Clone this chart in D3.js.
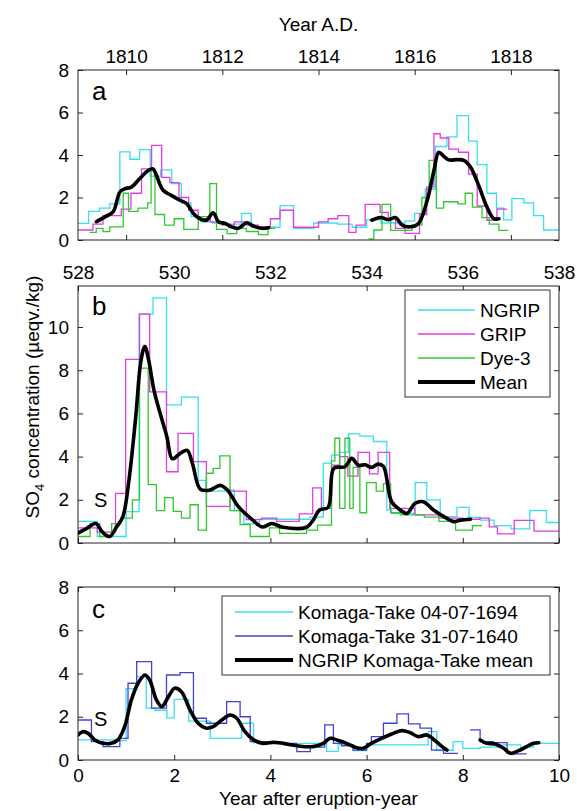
<!DOCTYPE html>
<html>
<head>
<meta charset="utf-8">
<script src="https://cdn.jsdelivr.net/npm/d3@7/dist/d3.min.js"></script>
<style>
  body { margin: 0; background: #fff; }
  svg text { font-family: "Liberation Sans", Arial, Helvetica, sans-serif; fill: #000; }
</style>
</head>
<body>
<svg id="chart" width="577" height="811"></svg>
<script>
// all x values are "years after eruption-year" (0..10); panel a/b top axes just relabel them
// step series: t has one more entry than v (last t = end of last step), null = gap

// --- panel a (1809 eruption, Year A.D.)
var tA_ngrip = [0,0.22,0.45,0.66,0.87,1.08,1.28,1.5,1.72,1.95,2.15,2.35,2.55,2.8,3.05,3.4,3.6,4.2,4.48,4.9,5.4,5.7,6.0,6.3,6.8,7.0,7.22,7.43,7.67,7.88,8.12,8.3,8.5,8.7,8.85,9.02,9.27,9.47,9.68,10];
var vA_ngrip = [0.78,1.35,1.5,1.7,4.15,3.8,4.25,3.0,3.3,2.65,1.75,1.1,0.85,0.8,0.75,1.25,0.6,1.62,0.55,0.8,0.75,0.6,0.95,0.8,0.9,1.25,2.4,4.4,4.85,5.85,4.65,3.55,2.2,1.5,0.95,1.95,1.75,1.15,0.47];
var tA_grip = [0,0.31,0.52,0.9,1.1,1.32,1.53,1.74,1.91,2.1,2.3,2.5,2.75,3.0,3.25,3.5,3.75,4.0,4.2,4.48,5.0,5.2,5.4,5.63,5.78,5.97,6.28,6.45,6.6,6.8,7.1,7.25,7.4,7.53,7.71,7.91,8.12,8.3,8.5,8.71,8.92];
var vA_grip = [0.47,0.75,1.15,1.45,2.2,3.35,4.45,2.95,2.7,2.0,1.4,1.0,0.85,0.7,0.85,0.7,0.6,1.0,1.4,0.6,0.85,1.0,1.15,0.36,0.7,1.68,1.3,1.05,0.55,0.31,1.2,2.5,5.0,4.8,4.28,4.13,3.1,1.6,0.93,1.45];
var tA_dye3 = [0.24,0.38,0.52,0.66,0.94,1.05,1.25,1.45,1.52,1.6,1.8,2.0,2.2,2.5,2.74,2.88,3.1,3.3,3.5,3.75,3.95,4.1,6.04,6.15,6.32,6.5,6.95,7.15,7.3,7.45,7.6,7.9,8.05,8.2,8.4,8.55,8.75,8.95];
var vA_dye3 = [0.36,0.55,0.39,0.62,2.2,1.35,1.5,1.75,3.3,1.2,0.7,1.0,0.5,1.1,2.65,0.5,0.3,0.55,0.4,0.25,0.55,null,0.05,0.47,1.68,0.45,0.7,2.0,3.75,1.5,1.8,1.7,2.2,1.55,1.05,0.75,0.45];
var tA_mean = [0.38,0.56,0.73,0.87,0.97,1.11,1.28,1.46,1.56,1.63,1.77,1.94,2.12,2.26,2.4,2.53,2.67,2.81,2.92,3.06,3.19,3.33,3.51,3.65,3.82,3.96,5.0,6.11,6.29,6.46,6.6,6.74,6.91,7.08,7.26,7.4,7.5,7.6,7.71,7.88,8.02,8.16,8.33,8.5,8.64,8.75];
var vA_mean = [0.86,1.09,1.32,2.26,2.41,2.49,2.88,3.27,3.35,3.04,2.34,2.1,1.87,1.71,1.25,1.01,0.93,1.28,0.86,0.78,0.62,0.55,0.81,0.65,0.55,0.58,null,0.93,1.06,0.95,1.06,0.7,0.62,0.78,1.87,3.27,4.13,3.95,3.77,3.78,3.75,3.43,2.57,1.56,1.01,1.0];

// --- panel b (528)
var tB_ngrip = [0,0.4,1.0,1.27,1.56,1.84,2.15,2.5,2.66,3.06,3.25,3.45,3.77,4.82,5.1,5.27,5.44,5.62,5.86,6.14,6.42,6.52,7.01,7.25,7.53,7.88,8.13,8.37,8.65,9.0,9.39,9.74,10];
var vB_ngrip = [1.0,0.3,1.45,10.6,11.35,6.4,6.75,2.9,2.4,2.45,1.5,0.9,1.1,1.2,3.7,4.07,4.2,5.05,4.95,4.7,1.53,1.37,2.8,2.0,1.22,1.65,1.19,1.06,0.8,0.65,1.5,0.95];
var tB_grip = [0,0.4,0.78,0.99,1.28,1.49,1.84,2.08,2.4,2.67,3.16,3.5,3.82,4.13,4.6,4.88,5.06,5.27,5.44,5.61,5.82,6.06,6.24,6.48,7.0,7.5,8.0,8.35,8.55,8.72,9.07,9.48,10];
var vB_grip = [0.7,0.5,2.3,8.5,10.6,7.0,3.3,5.08,3.77,1.7,2.4,1.08,1.15,1.0,1.35,2.55,1.6,3.6,4.0,3.1,4.2,3.2,4.2,1.6,1.3,1.15,1.1,1.15,0.75,0.42,1.05,0.55];
var tB_dye3 = [0,0.25,0.45,0.7,0.89,1.13,1.28,1.46,1.63,1.8,1.98,2.15,2.33,2.5,2.67,2.81,2.95,3.16,3.37,3.58,3.98,4.19,4.75,4.98,5.27,5.34,5.44,5.55,5.65,5.72,5.86,6.0,6.2,6.35,6.5,6.7,7.2,7.5,7.85,8.2,8.4];
var vB_dye3 = [0.3,0.9,0.3,0.9,1.15,2.0,8.1,2.7,1.5,2.1,1.46,1.15,1.77,0.6,3.23,3.46,4.03,1.5,0.85,0.3,0.7,0.45,0.6,0.83,3.8,4.85,1.6,4.85,1.6,3.5,1.4,2.8,2.4,2.75,1.4,1.3,1.2,1.0,0.6,0.8];
var tB_mean = [0,0.17,0.37,0.51,0.66,0.8,0.93,1.05,1.2,1.31,1.39,1.47,1.58,1.73,1.85,1.96,2.12,2.27,2.38,2.54,2.73,2.96,3.11,3.34,3.64,3.83,4.03,4.26,4.75,4.89,5.02,5.2,5.32,5.55,5.69,5.83,5.97,6.1,6.24,6.35,6.52,6.7,6.84,7.01,7.18,7.39,7.67,7.81,7.95,8.16];
var vB_mean = [0.46,0.66,0.9,0.5,0.3,0.74,1.2,2.75,5.83,8.46,9.1,8.46,7.07,5.83,4.9,3.9,4.14,4.29,3.67,2.5,2.44,2.67,2.44,1.67,1.05,0.74,0.9,0.73,0.73,1.06,1.53,1.65,3.46,3.53,3.92,3.6,3.62,3.5,3.65,3.55,1.91,1.53,1.37,1.84,1.91,1.53,1.14,0.99,1.06,1.1];

// --- panel c (Komaga-Take)
var tC_k1694 = [0,0.87,1.0,1.22,1.42,1.6,1.85,2.0,2.3,2.75,3.05,3.4,3.65,3.9,4.6,5.17,5.41,5.72,6.0,7.28,7.46,7.8,8.0,8.36,8.8,9.2,9.47,10];
var vC_k1694 = [0.93,0.9,3.3,3.86,2.4,2.3,1.95,2.8,1.8,1.0,1.0,1.7,0.8,0.75,0.77,0.4,0.7,0.43,0.7,1.31,0.45,0.85,0.54,0.6,0.7,0.6,0.77];
var tC_k1640 = [0,0.28,0.52,0.87,1.04,1.22,1.53,1.84,2.12,2.4,2.67,3.09,3.37,3.58,3.92,4.55,4.83,5.13,5.31,5.48,5.72,6.0,6.1,6.35,6.63,6.87,7.11,7.35,7.6,7.9,8.15,8.36,8.64,8.92,9.06,9.33];
var vC_k1640 = [1.85,0.85,0.62,1.0,3.55,4.55,2.4,3.93,4.04,1.93,1.7,2.7,2.0,0.85,0.77,0.39,0.6,1.62,0.77,0.66,0.46,0.77,1.08,1.7,2.13,1.67,1.47,0.46,0.31,null,1.39,0.85,0.8,0.31,0.28];
var tC_mean = [0,0.1,0.21,0.35,0.52,0.69,0.83,0.97,1.11,1.25,1.39,1.49,1.63,1.74,1.88,2.01,2.15,2.33,2.5,2.67,2.81,2.99,3.16,3.3,3.47,3.65,3.85,4.06,4.27,4.55,4.89,5.1,5.24,5.41,5.58,5.79,5.93,6.1,6.31,6.52,6.73,6.9,7.08,7.25,7.39,7.53,7.67,8.0,8.36,8.5,8.67,8.85,8.99,9.16,9.33,9.47,9.58];
var vC_mean = [1.16,1.31,1.23,0.93,0.77,0.77,0.93,1.54,2.78,3.55,3.93,3.7,2.78,2.47,2.93,3.32,3.16,2.31,1.7,1.47,1.54,1.85,2.08,1.93,1.31,0.93,0.77,0.82,0.77,0.66,0.62,0.77,1.0,0.9,0.77,0.57,0.54,0.77,1.0,1.2,1.36,1.27,1.08,1.16,0.96,0.69,0.46,null,0.93,0.77,0.74,0.54,0.31,0.43,0.62,0.77,0.8];

// axis ticks / labels
var yearsAD = [1810,1812,1814,1816,1818];
var yearsB = [528,530,532,534,536,538];
var yearsAfter = [0,2,4,6,8,10];
var legendB = ["NGRIP","GRIP","Dye-3","Mean"];
var legendC = ["Komaga-Take 04-07-1694","Komaga-Take 31-07-1640","NGRIP Komaga-Take mean"];

var C_CYAN = "#36e0ec", C_MAG = "#e23de2", C_GREEN = "#30c830", C_BLUE = "#4343d2";

var svg = d3.select("#chart");
var L = 78, R = 559;
var tickLen = 5;

function stairs(ts, vs) {
  var pts = [];
  for (var i = 0; i < vs.length; i++) {
    if (vs[i] == null) { pts.push({t: ts[i], v: null}); continue; }
    pts.push({t: ts[i], v: vs[i]});
    pts.push({t: ts[i + 1], v: vs[i]});
  }
  return pts;
}
function pairs(ts, vs) {
  return ts.map(function(t, i) { return {t: t, v: vs[i]}; });
}

function panel(id, top, bottom, ymax, cfg) {
  var x = d3.scaleLinear().domain([0, 10]).range([L, R]);
  var y = d3.scaleLinear().domain([0, ymax]).range([bottom, top]);
  var xTop = d3.scaleLinear().domain(cfg.topDomain).range([L, R]);
  var g = svg.append("g").attr("id", id);

  g.append("clipPath").attr("id", "clip-" + id)
    .append("rect").attr("x", L).attr("y", top).attr("width", R - L).attr("height", bottom - top);
  var plot = g.append("g").attr("clip-path", "url(#clip-" + id + ")");

  var stepLine = d3.line().defined(function(d) { return d.v != null; })
    .x(function(d) { return x(d.t); }).y(function(d) { return y(d.v); });
  var meanLine = d3.line().defined(function(d) { return d.v != null; })
    .curve(d3.curveCatmullRom.alpha(0.5))
    .x(function(d) { return x(d.t); }).y(function(d) { return y(d.v); });

  cfg.steps.forEach(function(s) {
    plot.append("path").datum(stairs(s.t, s.v))
      .attr("d", stepLine).attr("fill", "none")
      .attr("stroke", s.color).attr("stroke-width", 1.3);
  });
  plot.append("path").datum(pairs(cfg.mean.t, cfg.mean.v))
    .attr("d", meanLine).attr("fill", "none")
    .attr("stroke", "#000").attr("stroke-width", 3.6)
    .attr("stroke-linejoin", "round").attr("stroke-linecap", "round");

  // axes, MATLAB style inward ticks on all sides
  var yt = d3.range(0, ymax + 0.01, 2);
  var ax;
  ax = g.append("g").attr("transform", "translate(" + L + ",0)")
    .call(d3.axisLeft(y).tickValues(yt).tickSize(-tickLen).tickPadding(9).tickFormat(d3.format("d")));
  ax = ax.select(".domain").remove();
  g.append("g").attr("transform", "translate(" + R + ",0)")
    .call(d3.axisRight(y).tickValues(yt).tickSize(-tickLen).tickFormat(""))
    .select(".domain").remove();

  var topAx = d3.axisTop(xTop).tickValues(cfg.topTicks).tickSize(-tickLen).tickPadding(7)
    .tickFormat(cfg.topLabels ? d3.format("d") : "");
  g.append("g").attr("transform", "translate(0," + top + ")").call(topAx).select(".domain").remove();
  var botAx = d3.axisBottom(xTop).tickValues(cfg.topTicks).tickSize(-tickLen).tickPadding(9)
    .tickFormat(cfg.bottomLabels ? d3.format("d") : "");
  g.append("g").attr("transform", "translate(0," + bottom + ")").call(botAx).select(".domain").remove();

  g.selectAll(".tick line").attr("stroke", "#222");
  g.selectAll(".tick text").attr("font-size", 19).attr("fill", "#000");

  g.append("rect").attr("x", L).attr("y", top).attr("width", R - L).attr("height", bottom - top)
    .attr("fill", "none").attr("stroke", "#222").attr("stroke-width", 1);

  g.append("text").attr("x", 92).attr("y", top + cfg.letterDy).attr("font-size", 26).text(cfg.letter);
  if (cfg.sY) g.append("text").attr("x", 94).attr("y", y(cfg.sY)).attr("font-size", 20).text("S");
  return {g: g, x: x, y: y};
}

// panel a
panel("pa", 70, 240, 8, {
  topDomain: [1809, 1819], topTicks: yearsAD, topLabels: true, bottomLabels: false,
  letter: "a", letterDy: 30,
  steps: [
    {t: tA_ngrip, v: vA_ngrip, color: C_CYAN},
    {t: tA_grip, v: vA_grip, color: C_MAG},
    {t: tA_dye3, v: vA_dye3, color: C_GREEN}
  ],
  mean: {t: tA_mean, v: vA_mean}
});

// panel b
var pb = panel("pb", 286, 543, 11.9, {
  topDomain: [528, 538], topTicks: yearsB, topLabels: true, bottomLabels: false,
  letter: "b", letterDy: 29, sY: 1.65,
  steps: [
    {t: tB_ngrip, v: vB_ngrip, color: C_CYAN},
    {t: tB_grip, v: vB_grip, color: C_MAG},
    {t: tB_dye3, v: vB_dye3, color: C_GREEN}
  ],
  mean: {t: tB_mean, v: vB_mean}
});

// panel c
var pc = panel("pc", 587, 760, 8, {
  topDomain: [0, 10], topTicks: yearsAfter, topLabels: false, bottomLabels: true,
  letter: "c", letterDy: 31, sY: 1.55,
  steps: [
    {t: tC_k1694, v: vC_k1694, color: C_CYAN},
    {t: tC_k1640, v: vC_k1640, color: C_BLUE}
  ],
  mean: {t: tC_mean, v: vC_mean}
});

// legends
function legend(g, box, lineX, textX, rowsY, labels, colors, widths) {
  g.append("rect").attr("x", box[0]).attr("y", box[1]).attr("width", box[2]).attr("height", box[3])
    .attr("fill", "#fff").attr("stroke", "#333").attr("stroke-width", 1);
  labels.forEach(function(lab, i) {
    g.append("line").attr("x1", lineX[0]).attr("x2", lineX[1]).attr("y1", rowsY[i]).attr("y2", rowsY[i])
      .attr("stroke", colors[i]).attr("stroke-width", widths[i]);
    g.append("text").attr("x", textX).attr("y", rowsY[i] + 7).attr("font-size", 19).text(lab);
  });
}
legend(pb.g, [405, 290, 145, 107], [418, 475], 480, [310, 334, 358, 382], legendB,
  [C_CYAN, C_MAG, C_GREEN, "#000"], [1.3, 1.3, 1.3, 4]);
legend(pc.g, [222, 596, 328, 79], [235, 293], 298, [612, 636, 660], legendC,
  [C_CYAN, C_BLUE, "#000"], [1.3, 1.3, 4]);

// axis titles
svg.append("text").attr("x", (L + R) / 2).attr("y", 31).attr("text-anchor", "middle")
  .attr("font-size", 19).text("Year A.D.");
svg.append("text").attr("x", (L + R) / 2).attr("y", 805).attr("text-anchor", "middle")
  .attr("font-size", 19).text("Year after eruption-year");

var ylab = svg.append("text").attr("transform", "translate(39,397) rotate(-90)")
  .attr("text-anchor", "middle").attr("font-size", 19);
ylab.append("tspan").text("SO");
ylab.append("tspan").attr("font-size", 13).attr("dy", 5).text("4");
ylab.append("tspan").attr("dy", -5).text(" concentration (\u00b5eqv./kg)");
</script>
</body>
</html>
